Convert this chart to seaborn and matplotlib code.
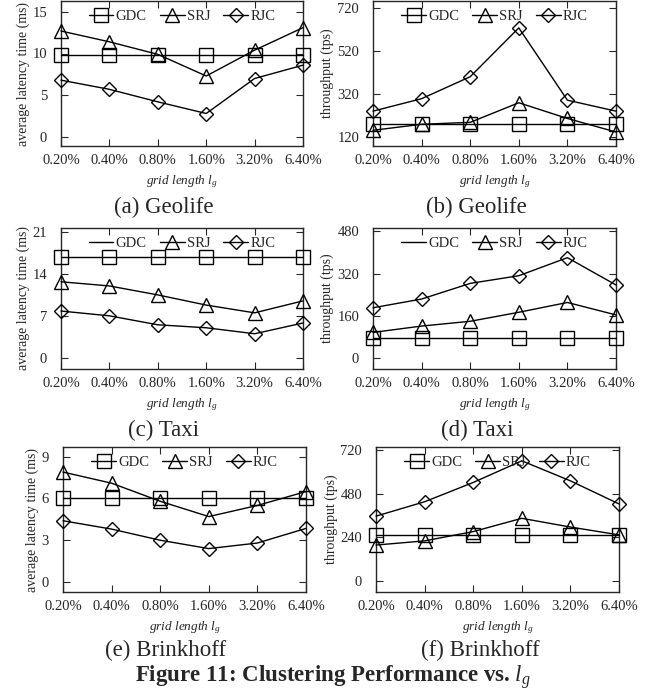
import numpy as np
import pandas as pd
import seaborn as sns
import matplotlib.pyplot as plt
from matplotlib.lines import Line2D

# x categories (grid length)
grid_labels = ['0.20%', '0.40%', '0.80%', '1.60%', '3.20%', '6.40%']
methods = ['GDC', 'SRJ', 'RJC']

# Geolife
geo_lat_gdc = [9.8, 9.8, 9.8, 9.8, 9.8, 9.8]
geo_lat_srj = [12.7, 11.4, 9.9, 7.3, 10.4, 13.1]
geo_lat_rjc = [6.8, 5.7, 4.2, 2.8, 7.0, 8.6]
geo_thr_gdc = [182, 182, 182, 182, 182, 182]
geo_thr_srj = [151, 179, 188, 279, 206, 143]
geo_thr_rjc = [240, 298, 400, 627, 291, 240]

# Taxi
taxi_lat_gdc = [16.8, 16.8, 16.8, 16.8, 16.8, 16.8]
taxi_lat_srj = [12.7, 12.0, 10.5, 8.8, 7.5, 9.5]
taxi_lat_rjc = [7.8, 7.0, 5.5, 5.0, 4.0, 5.8]
taxi_thr_gdc = [78, 78, 78, 78, 78, 78]
taxi_thr_srj = [98, 122, 140, 174, 211, 164]
taxi_thr_rjc = [191, 224, 283, 312, 380, 277]

# Brinkhoff
brink_lat_gdc = [6.0, 6.0, 6.0, 6.0, 6.0, 6.0]
brink_lat_srj = [7.9, 7.1, 5.8, 4.7, 5.5, 6.5]
brink_lat_rjc = [4.4, 3.8, 3.0, 2.4, 2.8, 3.85]
brink_thr_gdc = [255, 255, 255, 255, 255, 255]
brink_thr_srj = [198, 221, 272, 345, 297, 254]
brink_thr_rjc = [357, 436, 542, 661, 551, 424]

lat_ticks_geo = [0, 5, 10, 15]
thr_ticks_geo = [120, 320, 520, 720]
lat_ticks_taxi = [0, 7, 14, 21]
thr_ticks_taxi = [0, 160, 320, 480]
lat_ticks_brink = [0, 3, 6, 9]
thr_ticks_brink = [0, 240, 480, 720]

sns.set_style('ticks')
plt.rcParams['font.family'] = ['Liberation Serif', 'DejaVu Serif']
plt.rcParams['mathtext.fontset'] = 'custom'
plt.rcParams['mathtext.it'] = 'Liberation Serif:italic'
plt.rcParams['mathtext.rm'] = 'Liberation Serif'
plt.rcParams['mathtext.bf'] = 'Liberation Serif:bold'

markers = {'GDC': 's', 'SRJ': '^', 'RJC': 'D'}
msizes = {'GDC': 10, 'SRJ': 10.5, 'RJC': 7.5}

fig = plt.figure(figsize=(6.59, 6.93), dpi=100)
W, H = 659, 693


def px_axes(left, right, top, bottom):
    return fig.add_axes([left / W, 1 - bottom / H, (right - left) / W, (bottom - top) / H])


panels = [
    # (box, series, ylim, yticks, ylabel, gdc marker in legend, caption, caption baseline pos)
    ((61, 303, 1, 146), [geo_lat_gdc, geo_lat_srj, geo_lat_rjc], (-1.1, 16.3), lat_ticks_geo,
     'average latency time (ms)', True, '(a) Geolife', (164, 213)),
    ((373, 616, 1, 146), [geo_thr_gdc, geo_thr_srj, geo_thr_rjc], (78, 752), thr_ticks_geo,
     'throughput (tps)', True, '(b) Geolife', (476, 213)),
    ((61, 303, 228, 369), [taxi_lat_gdc, taxi_lat_srj, taxi_lat_rjc], (-1.9, 21.7), lat_ticks_taxi,
     'average latency time (ms)', False, '(c) Taxi', (164, 436)),
    ((373, 616, 228, 369), [taxi_thr_gdc, taxi_thr_srj, taxi_thr_rjc], (-40, 492), thr_ticks_taxi,
     'throughput (tps)', False, '(d) Taxi', (477, 436)),
    ((63, 306, 447, 592), [brink_lat_gdc, brink_lat_srj, brink_lat_rjc], (-0.72, 9.7), lat_ticks_brink,
     'average latency time (ms)', True, '(e) Brinkhoff', (166, 656)),
    ((376, 619, 447, 592), [brink_thr_gdc, brink_thr_srj, brink_thr_rjc], (-60, 737), thr_ticks_brink,
     'throughput (tps)', True, '(f) Brinkhoff', (480, 656)),
]

x = np.arange(len(grid_labels))

for box, series, ylim, yticks, ylabel, gdc_mark, caption, cpos in panels:
    ax = px_axes(*box)
    for name, vals in zip(methods, series):
        df = pd.DataFrame({'x': x, 'y': vals})
        sns.lineplot(data=df, x='x', y='y', ax=ax, color='black', lw=1.0,
                     marker=markers[name], markersize=msizes[name],
                     markerfacecolor='none', markeredgecolor='black',
                     markeredgewidth=1.0, clip_on=False, zorder=3)
    ax.set_xlim(0, len(grid_labels) - 1)
    ax.set_ylim(*ylim)
    ax.set_xticks(x)
    ax.set_xticklabels(grid_labels, fontsize=10.5)
    ax.set_yticks(yticks)
    ax.set_yticklabels([str(t) for t in yticks], fontsize=10.5)
    ax.tick_params(direction='in', length=5, width=0.8, top=True, right=True)
    ax.tick_params(axis='x', pad=6)
    ax.tick_params(axis='y', pad=10)
    for s in ax.spines.values():
        s.set_linewidth(1.0)
    ax.set_xlabel(r'grid length $l_g$', fontsize=9.5, style='italic', labelpad=4)
    ax.set_ylabel(ylabel, fontsize=10, labelpad=2)

    handles = []
    for name in methods:
        if name == 'GDC' and not gdc_mark:
            handles.append(Line2D([], [], color='black', lw=1.0))
        else:
            handles.append(Line2D([], [], color='black', lw=1.0, marker=markers[name],
                                  markersize=msizes[name], markerfacecolor='none',
                                  markeredgecolor='black', markeredgewidth=1.0))
    ax.legend(handles, methods, loc='upper center', bbox_to_anchor=(0.5, 1.03), ncol=3,
              frameon=False, fontsize=10.5, handlelength=1.7, handletextpad=0.15,
              columnspacing=0.9)

    fig.text(cpos[0] / W, 1 - cpos[1] / H, caption, fontsize=16.5, ha='center', va='baseline')

fig.text(333 / W, 1 - 682 / H, r'Figure 11: Clustering Performance vs. $l_g$',
         fontsize=16.5, fontweight='bold', ha='center', va='baseline')

fig.savefig('out.png', dpi=100)
